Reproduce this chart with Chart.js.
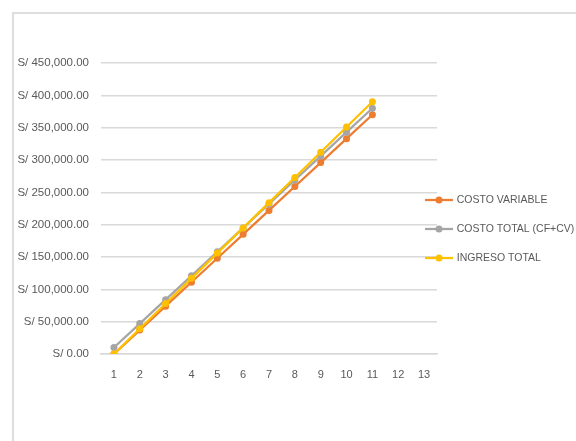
<!DOCTYPE html>
<html>
<head>
<meta charset="utf-8">
<script src="https://cdn.jsdelivr.net/npm/chart.js@4/dist/chart.umd.min.js"></script>
<style>
  html, body { margin: 0; padding: 0; background: #ffffff; }
  body { width: 576px; height: 441px; position: relative; overflow: hidden; }
  .frame { position: absolute; left: 12px; top: 12px; width: 620px; height: 500px;
           border-left: 2px solid #dedede; border-top: 2px solid #dedede; box-sizing: border-box; }
  .wrap { position: absolute; left: 12px; top: 12px; width: 564px; height: 429px; }
</style>
</head>
<body>
<div class="frame"></div>
<div class="wrap"><canvas id="chart" width="564" height="429"></canvas></div>
<script>
// Units sold (category axis)
const categories = ['1','2','3','4','5','6','7','8','9','10','11','12','13'];

// Series values in soles
const costoVariable = [0, 37000, 74000, 111000, 148000, 185000, 222000, 259000, 296000, 333000, 370000];
const costoTotal    = [10000, 47000, 84000, 121000, 158000, 195000, 232000, 269000, 306000, 343000, 380000];
const ingresoTotal  = [0, 39000, 78000, 117000, 156000, 195000, 234000, 273000, 312000, 351000, 390000];

const seriesNames = ['COSTO VARIABLE', 'COSTO TOTAL (CF+CV)', 'INGRESO TOTAL'];

// Value axis labels
const yTickLabels = ['S/ 0.00', 'S/ 50,000.00', 'S/ 100,000.00', 'S/ 150,000.00', 'S/ 200,000.00',
                     'S/ 250,000.00', 'S/ 300,000.00', 'S/ 350,000.00', 'S/ 400,000.00', 'S/ 450,000.00'];

const colors = ['#ED7D31', '#A5A5A5', '#FFC000'];
const FONT = '"Liberation Sans", Arial, sans-serif';
const TEXT = '#595959';

// Legend key: short line with a dot in the middle
function legendKey(color) {
  const c = document.createElement('canvas');
  c.width = 28; c.height = 8;
  const g = c.getContext('2d');
  g.strokeStyle = color; g.lineWidth = 2.25;
  g.beginPath(); g.moveTo(0, 4); g.lineTo(28, 4); g.stroke();
  g.fillStyle = color;
  g.beginPath(); g.arc(14, 4, 3.5, 0, Math.PI * 2); g.fill();
  return c;
}
const keys = colors.map(legendKey);

const LEGEND_PAD = 18.5;
const LEGEND_FONT = 10.5;
const KEY_SLOT = 25;

// Places the legend box next to the plot, overlapping the gridline ends
const legendPlacer = {
  id: 'legendPlacer',
  afterLayout(chart) {
    const lg = chart.legend;
    if (!lg) return;
    const left = 414.5 - LEGEND_PAD;
    const top = 188 - LEGEND_FONT / 2 - LEGEND_PAD;
    lg.width = chart.width - left;
    lg.left = left; lg.right = chart.width;
    lg.top = top; lg.bottom = top + lg.height;
  }
};

const ds = (label, data, i) => ({
  label, data,
  borderColor: colors[i], backgroundColor: colors[i],
  pointBackgroundColor: colors[i], pointBorderColor: colors[i],
  borderWidth: 2.25, pointRadius: 3.5, pointBorderWidth: 0,
  order: 2 - i, tension: 0
});

new Chart(document.getElementById('chart'), {
  type: 'line',
  data: {
    labels: categories,
    datasets: [
      ds(seriesNames[0], costoVariable, 0),
      ds(seriesNames[1], costoTotal, 1),
      ds(seriesNames[2], ingresoTotal, 2)
    ]
  },
  plugins: [legendPlacer],
  options: {
    responsive: false,
    animation: false,
    events: [],
    layout: { padding: { top: 51, right: 0, bottom: 0, left: 0 } },
    plugins: {
      tooltip: { enabled: false },
      legend: {
        position: 'right',
        align: 'start',
        maxWidth: 139,
        labels: {
          usePointStyle: true,
          pointStyleWidth: KEY_SLOT,
          padding: LEGEND_PAD,
          color: TEXT,
          font: { family: FONT, size: LEGEND_FONT },
          sort: (a, b) => a.datasetIndex - b.datasetIndex,
          generateLabels(chart) {
            const items = Chart.defaults.plugins.legend.labels.generateLabels(chart);
            items.forEach(it => { it.pointStyle = keys[it.datasetIndex]; });
            return items;
          }
        }
      }
    },
    scales: {
      x: {
        offset: true,
        grid: { display: false, drawTicks: false },
        border: { display: true, color: '#d9d9d9', width: 1.5 },
        ticks: { color: TEXT, font: { family: FONT, size: 11 }, padding: 14, maxRotation: 0, autoSkip: false },
        afterFit(scale) { scale.height = 87; }
      },
      y: {
        min: 0, max: 450000,
        grid: { color: '#d9d9d9', lineWidth: 1.5, drawTicks: false },
        border: { display: false },
        ticks: {
          stepSize: 50000, color: TEXT, font: { family: FONT, size: 11.5 }, padding: 12,
          callback: (v, i) => yTickLabels[i]
        },
        afterFit(scale) { scale.width = 89; }
      }
    }
  }
});
</script>
</body>
</html>
